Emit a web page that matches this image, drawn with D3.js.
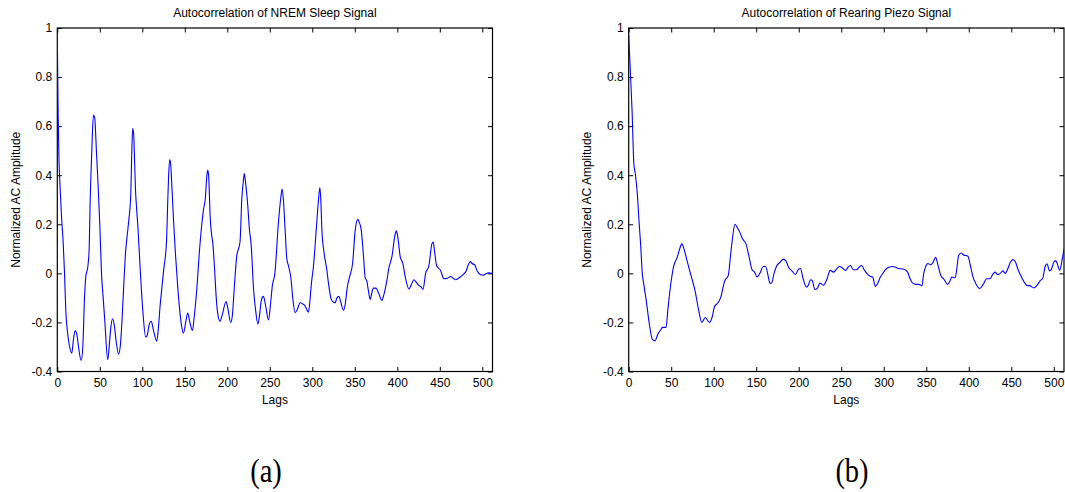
<!DOCTYPE html>
<html>
<head>
<meta charset="utf-8">
<script src="https://cdn.jsdelivr.net/npm/d3@7"></script>
<style>
  html, body { margin: 0; padding: 0; background: #fff; }
  svg text { font-family: "Liberation Sans", Arial, Helvetica, sans-serif; fill: #000; }
</style>
</head>
<body>
<svg id="chart" width="1065" height="492"></svg>
<script>
// ---------- data ----------
const titles = ["Autocorrelation of NREM Sleep Signal", "Autocorrelation of Rearing Piezo Signal"];
const panelLabels = ["(a)", "(b)"];
const xLabel = "Lags";
const yLabel = "Normalized AC Amplitude";
const xTicks = [0, 50, 100, 150, 200, 250, 300, 350, 400, 450, 500];
const yTicks = [-0.4, -0.2, 0, 0.2, 0.4, 0.6, 0.8, 1];
const yTickLabels = ["-0.4", "-0.2", "0", "0.2", "0.4", "0.6", "0.8", "1"];

// [lag, value] pairs
const nremPoints = [
  [0,0.97],[1,0.65],[2,0.46],[3,0.37],[5,0.23],[7,0.12],[8.5,0.0],[10,-0.15],[12,-0.24],[14,-0.29],
  [17,-0.325],[19,-0.27],[21,-0.233],[23,-0.25],[25,-0.3],[28,-0.355],[30,-0.3],[32,-0.1],[33.5,-0.015],[36,0.03],
  [37.5,0.1],[38.5,0.27],[40.5,0.49],[42.5,0.645],[44,0.635],[46,0.5],[48,0.36],[50,0.2],[52,0.0],[54,-0.1],
  [56,-0.2],[59.3,-0.352],[61,-0.3],[63,-0.22],[65,-0.185],[67,-0.21],[69,-0.27],[72,-0.328],[74,-0.3],[76,-0.2],
  [78,-0.06],[80,0.07],[83.6,0.2],[86.4,0.32],[87.7,0.5],[88.7,0.59],[89.8,0.57],[91,0.45],[92,0.34],[93,0.28],
  [95,0.18],[97,0.05],[99,-0.07],[101,-0.17],[104,-0.26],[106,-0.25],[108,-0.21],[110.5,-0.195],[113,-0.23],[117,-0.276],
  [119,-0.22],[121,-0.13],[123,-0.06],[125,0.01],[128.5,0.13],[130,0.3],[131,0.4],[132.3,0.464],[133.5,0.44],[135,0.34],
  [137,0.2],[139,0.08],[141.7,-0.056],[144,-0.15],[146,-0.21],[148.4,-0.244],[151,-0.2],[153.5,-0.162],[156,-0.2],[159,-0.233],
  [161,-0.18],[164,-0.07],[167,0.08],[170,0.2],[172,0.26],[174,0.3],[176,0.4],[177,0.42],[178,0.4],[180,0.22],
  [181.5,0.16],[183,0.12],[185,0.02],[187,-0.1],[189,-0.17],[191.5,-0.195],[194,-0.17],[198.6,-0.115],[200.5,-0.14],[204,-0.2],
  [206,-0.17],[208,-0.07],[211,0.067],[215,0.13],[217,0.3],[219,0.38],[220,0.407],[221.5,0.37],[224,0.28],[226,0.18],
  [228,0.12],[231,-0.07],[233,-0.14],[236,-0.206],[238,-0.17],[240,-0.11],[242.5,-0.094],[245,-0.13],[248.5,-0.19],[251,-0.12],
  [253,-0.05],[256,0.0],[260,0.2],[263,0.31],[264.5,0.344],[266,0.3],[268,0.18],[270,0.06],[272,0.03],[274.8,-0.018],
  [277,-0.1],[279.8,-0.16],[282,-0.15],[285.7,-0.12],[289,-0.125],[291,-0.13],[295.5,-0.158],[297,-0.12],[299,-0.04],[301.4,0.03],
  [304.6,0.176],[307.3,0.3],[308.9,0.35],[310,0.3],[311.3,0.176],[314,0.08],[317.2,0.012],[319,-0.04],[321.8,-0.1],[324,-0.115],
  [326.9,-0.12],[329,-0.1],[331.3,-0.094],[333,-0.11],[336.7,-0.15],[339,-0.12],[341,-0.06],[343.8,-0.015],[347.4,0.04],[350.5,0.176],
  [353.6,0.22],[355,0.21],[357.6,0.176],[360.3,0.067],[362.2,-0.018],[364,-0.03],[366,-0.07],[368.1,-0.106],[370,-0.08],[372,-0.06],
  [374.4,-0.06],[376,-0.065],[378,-0.08],[381.9,-0.11],[384,-0.09],[387.7,-0.03],[390,0.02],[393.6,0.067],[397.5,0.16],[398.8,0.173],
  [400.5,0.15],[403.5,0.067],[406.6,0.04],[409.4,-0.016],[413.7,-0.064],[416,-0.05],[419.6,-0.026],[422,-0.035],[425,-0.048],[428,-0.055],
  [430.2,-0.066],[433.3,0.0],[437.2,0.032],[440.7,0.12],[442.3,0.128],[443.5,0.1],[446.2,0.032],[450.9,0.012],[454.8,-0.022],[459,-0.02],
  [462.6,-0.013],[466,-0.02],[468.7,-0.026],[472,-0.02],[475,-0.012],[478,-0.003],[481,0.01],[483,0.03],[485.9,0.048],[488,0.04],
  [491,0.035],[494,0.01],[497.7,-0.005],[501,-0.008],[504,-0.002],[507.4,0.002],[510,0.0],[512,0.0]
];

// [lag, value] pairs
const piezoPoints = [
  [0,0.97],[2,0.82],[4,0.66],[6,0.45],[8,0.4],[10,0.33],[12,0.22],[14,0.12],[16,0.0],[18,-0.05],
  [21,-0.12],[24,-0.2],[28,-0.27],[31,-0.275],[34,-0.25],[37,-0.233],[40,-0.22],[44,-0.22],[46,-0.15],[50,-0.03],
  [53,0.03],[57,0.065],[60,0.1],[62.5,0.12],[65,0.1],[68,0.06],[71,0.02],[75,-0.03],[78,-0.07],[82,-0.145],
  [86,-0.2],[90,-0.18],[95,-0.2],[98,-0.18],[101,-0.135],[105,-0.12],[108,-0.1],[113,-0.03],[117,-0.01],[120,0.08],
  [122,0.14],[125,0.2],[128,0.185],[131,0.165],[134,0.14],[138,0.12],[142,0.06],[145,0.016],[148,0.005],[151,-0.015],
  [155,0.005],[158,0.028],[161,0.028],[164,-0.01],[166,-0.04],[168,-0.04],[171,0.0],[174,0.03],[178,0.045],[182,0.058],
  [185,0.05],[188,0.025],[192,0.01],[196,-0.004],[200,0.018],[202,0.02],[205,-0.02],[209,-0.056],[211,-0.05],[214,-0.026],
  [216,-0.03],[219,-0.066],[222,-0.06],[225,-0.04],[229,-0.048],[233,-0.025],[237,0.012],[241,0.005],[245,0.02],[248,0.028],
  [252,0.02],[255,0.012],[258,0.025],[261,0.032],[264,0.015],[268,0.015],[271,0.025],[274,0.032],[277,0.015],[280,0.0],
  [284,-0.012],[287,-0.015],[290,-0.053],[293,-0.04],[296,-0.015],[299,0.0],[302,0.015],[306,0.025],[310,0.028],[314,0.025],
  [318,0.019],[322,0.018],[325,0.015],[328,0.005],[331,-0.022],[334,-0.04],[338,-0.045],[341,-0.045],[345,-0.05],[347,0.0],
  [349,0.025],[352,0.04],[355,0.035],[358,0.045],[361,0.065],[364,0.03],[367,-0.008],[371,-0.025],[375,-0.045],[378,-0.03],
  [380,-0.015],[384,-0.018],[386,0.02],[388,0.073],[391,0.083],[394,0.075],[399,0.07],[402,0.03],[405,-0.015],[408,-0.04],
  [413,-0.062],[417,-0.045],[421,-0.022],[425,-0.022],[428,-0.005],[431,0.005],[434,-0.005],[437,0.0],[440,0.01],[443,0.0],
  [446,0.02],[449,0.045],[452,0.056],[455,0.045],[458,0.015],[462,-0.015],[466,-0.04],[469,-0.05],[472,-0.05],[474,-0.055],
  [477,-0.059],[480,-0.05],[484,-0.03],[487,-0.02],[490,0.03],[492,0.039],[495,0.01],[497,0.015],[500,0.045],[502,0.052],
  [504,0.04],[507,0.013],[510,0.06],[512,0.1]
];

// ---------- drawing ----------
const svg = d3.select("#chart");
svg.append("rect").attr("width", 1065).attr("height", 492).attr("fill", "#fff");

const panels = [
  { points: nremPoints, x0: 57.3, x1: 492.5, title: titles[0], label: panelLabels[0], ylabX: 16, labX: 266 },
  { points: piezoPoints, x0: 628.7, x1: 1064, title: titles[1], label: panelLabels[1], ylabX: 587, labX: 852 }
];
const yTop = 28, yBot = 371.5;
const fs = 12;

panels.forEach(p => {
  const x = d3.scaleLinear().domain([0, 512]).range([p.x0, p.x1]);
  const y = d3.scaleLinear().domain([-0.4, 1]).range([yBot, yTop]);
  const g = svg.append("g");

  const bx = g.append("g").attr("transform", `translate(0,${yBot})`)
    .call(d3.axisBottom(x).tickValues(xTicks).tickSize(-4.5).tickPadding(7).tickFormat(d3.format("d")));
  const tx = g.append("g").attr("transform", `translate(0,${yTop})`)
    .call(d3.axisTop(x).tickValues(xTicks).tickSize(-4.5).tickFormat(""));
  const ly = g.append("g").attr("transform", `translate(${p.x0},0)`)
    .call(d3.axisLeft(y).tickValues(yTicks).tickSize(-4.5).tickPadding(5)
      .tickFormat((d, i) => yTickLabels[i]));
  const ry = g.append("g").attr("transform", `translate(${p.x1},0)`)
    .call(d3.axisRight(y).tickValues(yTicks).tickSize(-4.5).tickFormat(""));

  [bx, tx, ly, ry].forEach(a => {
    a.select(".domain").remove();
    a.selectAll("line").attr("stroke", "#000").attr("stroke-width", 1);
    a.selectAll("text").attr("font-size", fs).attr("font-family", '"Liberation Sans", Arial, sans-serif').attr("fill", "#000");
  });

  g.append("rect")
    .attr("x", p.x0).attr("y", yTop)
    .attr("width", p.x1 - p.x0).attr("height", yBot - yTop)
    .attr("fill", "none").attr("stroke", "#000").attr("stroke-width", 1.2);

  const clipId = "clip" + p.label.replace(/\W/g, "");
  svg.append("clipPath").attr("id", clipId)
    .append("rect").attr("x", p.x0).attr("y", yTop - 1).attr("width", p.x1 - p.x0).attr("height", yBot - yTop + 2);

  const line = d3.line()
    .x(d => x(d[0]))
    .y(d => y(d[1]))
    .curve(d3.curveMonotoneX);

  g.append("path")
    .datum(p.points)
    .attr("clip-path", `url(#${clipId})`)
    .attr("d", line)
    .attr("fill", "none")
    .attr("stroke", "#0000ff")
    .attr("stroke-width", 1.1)
    .attr("stroke-linejoin", "round");

  const cx = (p.x0 + p.x1) / 2;
  g.append("text").attr("x", cx).attr("y", 17).attr("text-anchor", "middle")
    .attr("font-size", fs).text(p.title);
  g.append("text").attr("x", cx).attr("y", 404).attr("text-anchor", "middle")
    .attr("font-size", fs).text(xLabel);
  g.append("text")
    .attr("transform", `translate(${p.ylabX},${(yTop + yBot) / 2}) rotate(-90)`)
    .attr("text-anchor", "middle").attr("dy", "0.35em")
    .attr("font-size", fs).text(yLabel);
  g.append("text")
    .attr("transform", `translate(${p.labX},482) scale(0.92,1.08)`)
    .attr("text-anchor", "middle")
    .style("font-family", '"Liberation Serif", "Times New Roman", serif')
    .attr("font-size", 31).text(p.label);
});
</script>
</body>
</html>
